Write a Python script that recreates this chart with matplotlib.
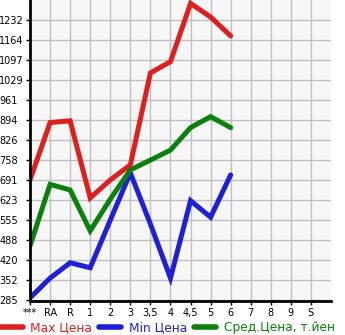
import matplotlib
matplotlib.use("Agg")
import matplotlib.pyplot as plt
from matplotlib.lines import Line2D

# x categories (only the first 11 have data)
labels = ["***", "RA", "R", "1", "2", "3", "3,5", "4", "4,5", "5", "6", "7", "8", "9", "S"]
y_ticks = [285, 352, 420, 488, 555, 623, 691, 758, 826, 894, 961, 1029, 1097, 1164, 1232]

max_price = [691, 885, 891, 630, 691, 742, 1053, 1091, 1288, 1242, 1178]
min_price = [292, 359, 411, 394, 555, 715, 542, 359, 621, 565, 708]
avg_price = [468, 676, 657, 519, 626, 725, 758, 792, 868, 905, 868]

red = "#dd1f1f"
blue = "#1f1fd8"
green = "#0c800c"

fig = plt.figure(figsize=(3.45, 3.35), dpi=100)
ax = fig.add_axes([30 / 345, 34 / 335, 301 / 345, 301 / 335])
ax.set_facecolor("#f7f7f7")

xs = list(range(len(max_price)))
lw = 3.6
ax.plot(xs, max_price, color=red, lw=lw, solid_capstyle="round", solid_joinstyle="miter")
ax.plot(xs, min_price, color=blue, lw=lw, solid_capstyle="round", solid_joinstyle="miter")
ax.plot(xs, avg_price, color=green, lw=lw, solid_capstyle="round", solid_joinstyle="miter")

ax.set_xlim(0, 15)
ax.set_ylim(281.6, 1299.6)
ax.set_xticks(range(len(labels)))
ax.set_xticklabels(labels, fontsize=7)
ax.set_yticks(y_ticks)
ax.set_yticklabels([str(v) for v in y_ticks], fontsize=7)
for t in ax.get_yticklabels():
    t.set_horizontalalignment("left")
ax.tick_params(axis="y", length=3, width=1, pad=19)
ax.tick_params(axis="x", length=3, width=1, pad=2)

ax.grid(True, color="#c0c0c0", lw=1)
ax.set_axisbelow(True)
for s in ["top", "right"]:
    ax.spines[s].set_visible(False)
for s in ["left", "bottom"]:
    ax.spines[s].set_linewidth(2)
    ax.spines[s].set_color("black")

handles = [
    Line2D([], [], color=red, lw=4, solid_capstyle="round"),
    Line2D([], [], color=blue, lw=4, solid_capstyle="round"),
    Line2D([], [], color=green, lw=4, solid_capstyle="round"),
]
leg = fig.legend(handles, ["Max Цена", "Min Цена", "Сред.Цена, т.йен"],
                 loc="lower left", bbox_to_anchor=(-0.005, -0.005), ncol=3,
                 frameon=False, fontsize=8.8, handlelength=1.8, handletextpad=0.6,
                 columnspacing=0.6, borderaxespad=0, borderpad=0.2)
for txt, c in zip(leg.get_texts(), [red, blue, green]):
    txt.set_color(c)

fig.savefig("out.png", dpi=100)
